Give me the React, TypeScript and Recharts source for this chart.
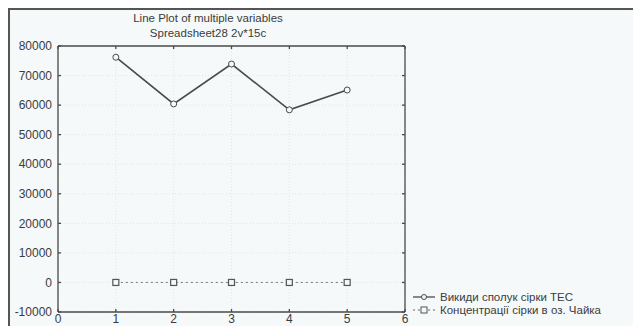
import React from 'react';
import { LineChart, Line, XAxis, YAxis, CartesianGrid, Legend } from 'recharts';

const xValues = [1, 2, 3, 4, 5];
const emissions = [76200, 60400, 73900, 58400, 65100];
const concentration = [0, 0, 0, 0, 0];
const seriesNames = ['Викиди сполук сірки ТЕС', 'Концентрації сірки в оз. Чайка'];
const xTicks = [0, 1, 2, 3, 4, 5, 6];
const yTicks = [-10000, 0, 10000, 20000, 30000, 40000, 50000, 60000, 70000, 80000];
const titleLines = ['Line Plot of multiple variables', 'Spreadsheet28 2v*15c'];

const data = xValues.map((x, i) => ({ x, a: emissions[i], b: concentration[i] }));

const FONT = 'Arial, "Liberation Sans", sans-serif';
const TEXT = '#3c3c3c';
const LINE = '#4a4a4a';
const BG = '#f5f9f9';

const EmptyTick = () => <g />;

const SquareDot = (props: any) => {
  const { cx, cy } = props;
  if (cx == null || cy == null) return null;
  return <rect x={cx - 3} y={cy - 3} width={6} height={6} fill={BG} stroke="#555" strokeWidth={1.2} />;
};

const LegendContent = () => (
  <svg width={222} height={30} style={{ overflow: 'visible' }}>
    <g>
      <line x1={3} x2={25} y1={9} y2={9} stroke={LINE} strokeWidth={1.3} />
      <circle cx={14} cy={9} r={2.5} fill={BG} stroke={LINE} strokeWidth={1} />
      <text x={30} y={13} fontSize={11.5} fill={TEXT} fontFamily={FONT}>{seriesNames[0]}</text>
    </g>
    <g>
      <line x1={3} x2={25} y1={22} y2={22} stroke="#666" strokeWidth={1} strokeDasharray="2 3" />
      <rect x={11} y={19} width={6} height={6} fill={BG} stroke="#555" strokeWidth={1} />
      <text x={30} y={26} fontSize={11.5} fill={TEXT} fontFamily={FONT}>{seriesNames[1]}</text>
    </g>
  </svg>
);

export default function App() {
  return (
    <div style={{ position: 'absolute', left: 0, top: 0, width: 633, height: 326, background: '#fff', overflow: 'hidden' }}>
      <div style={{ position: 'absolute', left: 8, top: 9, width: 625, height: 317, background: BG }} />
      <div style={{ position: 'absolute', left: 0, top: 0 }}>
        <LineChart width={633} height={326} data={data} margin={{ top: 45, right: 227, bottom: 0, left: 8 }}>
          <CartesianGrid xAxisId="bottom" yAxisId="left" stroke="#dfe6e6" strokeDasharray="1 2" />
          <XAxis
            xAxisId="bottom"
            dataKey="x"
            type="number"
            domain={[0, 6]}
            ticks={xTicks}
            height={14}
            stroke={LINE}
            strokeWidth={1.3}
            tickSize={-3}
            tickMargin={5}
            tick={{ fontSize: 12, fill: TEXT, fontFamily: FONT }}
            interval={0}
            allowDataOverflow
          />
          <XAxis
            xAxisId="top"
            orientation="top"
            dataKey="x"
            type="number"
            domain={[0, 6]}
            ticks={xTicks}
            height={1}
            stroke={LINE}
            strokeWidth={1.3}
            tickSize={-3}
            tick={<EmptyTick />}
            allowDataOverflow
          />
          <YAxis
            yAxisId="left"
            type="number"
            domain={[-10000, 80000]}
            ticks={yTicks}
            width={50}
            stroke={LINE}
            strokeWidth={1.3}
            tickSize={-3}
            tickMargin={9}
            tick={{ fontSize: 12, fill: TEXT, fontFamily: FONT }}
            interval={0}
            allowDataOverflow
          />
          <YAxis
            yAxisId="right"
            orientation="right"
            type="number"
            domain={[-10000, 80000]}
            ticks={yTicks}
            width={1}
            stroke={LINE}
            strokeWidth={1.3}
            tickSize={-3}
            tick={<EmptyTick />}
            allowDataOverflow
          />
          <Line
            xAxisId="bottom"
            yAxisId="left"
            dataKey="a"
            name={seriesNames[0]}
            stroke={LINE}
            strokeWidth={1.6}
            dot={{ r: 3, fill: BG, stroke: LINE, strokeWidth: 1 }}
            isAnimationActive={false}
          />
          <Line
            xAxisId="bottom"
            yAxisId="left"
            dataKey="b"
            name={seriesNames[1]}
            stroke="#777"
            strokeWidth={1}
            strokeDasharray="2 3"
            dot={<SquareDot />}
            isAnimationActive={false}
          />
          <Legend
            layout="horizontal"
            verticalAlign="middle"
            align="center"
            content={<LegendContent />}
            wrapperStyle={{ left: 410, top: 288, width: 222, height: 30 }}
          />
        </LineChart>
      </div>
      <div style={{ position: 'absolute', left: 8, top: 8, width: 625, height: 318, borderTop: '2px solid #555', borderLeft: '2px solid #555', boxSizing: 'border-box', pointerEvents: 'none' }} />
      {titleLines.map((t, i) => (
        <div
          key={i}
          style={{
            position: 'absolute',
            left: 108,
            width: 200,
            top: 12 + i * 15,
            textAlign: 'center',
            fontFamily: FONT,
            fontSize: 11.5,
            color: TEXT,
            whiteSpace: 'nowrap',
          }}
        >
          {t}
        </div>
      ))}
    </div>
  );
}
